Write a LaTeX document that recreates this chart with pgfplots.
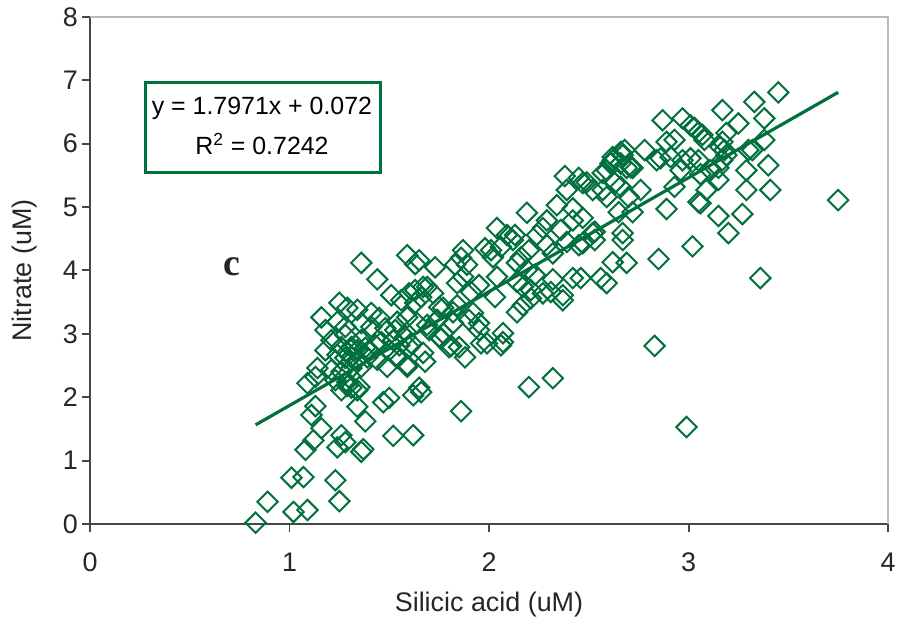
\documentclass[border=0pt]{standalone}
\usepackage{pgfplots}
\usepackage{pgfplotstable}
\pgfplotsset{compat=1.18}
\usepackage{fontspec}
\setmainfont{Liberation Sans}
\newfontfamily\serifface{Liberation Serif}
\definecolor{sgreen}{RGB}{0,112,60}
\definecolor{axgray}{RGB}{70,70,70}

% Silicic acid vs nitrate (uM)
\pgfplotstableread{
x y
0.83 0.02
0.89 0.35
1.02 0.19
1.09 0.22
1.01 0.73
1.07 0.74
1.23 0.69
1.25 0.36
1.08 1.17
1.12 1.32
1.16 1.51
1.11 1.72
1.13 1.86
1.24 1.21
1.26 1.40
1.28 1.29
1.36 1.14
1.37 1.18
1.34 1.85
1.38 1.62
1.47 1.92
1.50 1.99
1.52 1.39
1.62 1.40
1.62 2.03
1.66 2.08
1.26 2.11
1.29 2.18
1.31 2.15
1.34 2.11
1.86 1.78
2.20 2.16
2.32 2.30
2.83 2.81
2.99 1.53
1.88 2.63
1.68 2.56
1.65 2.15
1.81 2.81
1.76 2.93
1.96 2.85
2.06 2.82
2.07 3.01
1.59 2.48
1.60 2.79
1.67 2.70
1.77 3.01
1.80 2.79
1.90 3.22
1.95 3.06
1.82 3.34
1.75 3.42
1.63 3.49
1.60 3.64
1.67 3.74
1.36 4.12
1.44 3.86
1.59 4.24
1.63 4.10
1.51 3.61
1.56 3.53
1.63 3.69
1.66 3.58
1.25 3.49
1.29 3.41
1.34 3.38
1.41 3.33
1.45 3.25
1.16 3.26
1.18 3.06
1.24 3.19
1.28 3.11
1.36 3.17
1.41 3.11
1.48 3.09
1.54 3.19
1.59 3.26
1.64 3.17
1.21 2.90
1.26 2.79
1.31 2.79
1.34 2.74
1.38 2.78
1.43 2.82
1.46 2.87
1.52 2.90
1.58 2.95
1.61 2.85
1.18 2.74
1.24 2.67
1.28 2.62
1.31 2.63
1.34 2.59
1.39 2.63
1.44 2.59
1.49 2.48
1.54 2.62
1.59 2.51
1.14 2.46
1.21 2.43
1.26 2.40
1.31 2.46
1.36 2.48
1.23 2.27
1.13 2.32
1.09 2.22
1.29 2.24
1.35 2.16
1.29 2.71
1.33 2.82
1.36 2.90
1.40 2.74
1.28 2.98
1.50 2.74
1.55 2.82
1.53 3.06
1.70 3.06
1.74 3.22
2.38 5.49
2.45 5.46
2.47 5.38
2.39 5.27
2.52 5.27
2.57 5.27
2.59 5.58
2.62 5.79
2.67 5.82
2.66 5.69
2.69 5.62
2.59 5.16
2.66 5.32
2.70 5.16
2.65 4.92
2.72 4.92
2.67 4.59
2.62 4.13
2.69 4.12
2.56 3.88
2.59 3.80
2.34 5.03
2.42 4.98
2.19 4.91
2.29 4.79
2.42 4.79
2.47 4.83
2.27 4.67
2.36 4.64
2.53 4.61
2.24 4.56
2.29 4.40
2.39 4.45
2.32 4.27
2.45 4.40
2.04 4.67
2.09 4.56
2.13 4.56
2.12 4.48
1.98 4.35
2.01 4.32
2.02 4.21
2.06 4.37
2.20 4.32
2.16 4.21
1.87 4.32
1.86 4.20
1.89 4.09
1.83 4.09
1.73 4.05
1.65 4.16
2.14 4.12
2.19 4.01
2.23 3.93
2.32 3.86
2.42 3.88
2.14 3.82
2.17 3.74
2.21 3.69
2.31 3.66
2.37 3.61
2.04 3.90
2.03 3.58
1.95 3.77
1.87 3.90
1.84 3.80
1.91 3.66
1.69 3.74
1.72 3.64
1.77 3.41
1.84 3.45
1.92 3.33
1.95 3.17
2.14 3.34
2.17 3.45
2.21 3.56
1.82 3.17
1.69 3.14
1.75 2.95
1.85 2.79
2.07 2.87
1.99 2.85
2.27 3.64
2.37 3.53
2.87 6.37
2.97 6.40
3.17 6.53
3.33 6.66
3.45 6.81
3.38 6.40
3.25 6.32
3.01 6.29
3.03 6.25
3.05 6.18
3.07 6.14
3.08 6.06
2.89 6.03
2.93 6.06
3.19 6.17
3.17 6.03
3.38 6.06
3.30 5.90
3.18 5.90
3.16 5.95
2.78 5.90
2.68 5.90
2.84 5.74
2.91 5.79
2.97 5.74
3.05 5.74
2.96 5.58
3.06 5.52
3.11 5.58
3.15 5.62
3.17 5.74
3.29 5.58
3.40 5.66
2.72 5.62
2.76 5.27
2.93 5.32
3.09 5.27
3.29 5.27
3.41 5.27
2.89 4.97
3.06 5.06
3.15 4.86
3.27 4.89
3.20 4.59
3.02 4.38
2.85 4.18
3.36 3.88
3.75 5.11
2.66 5.87
2.62 5.74
2.71 5.63
2.86 5.77
3.01 5.77
3.32 5.90
3.19 5.82
3.15 5.43
3.05 5.08
2.63 5.38
2.49 5.39
2.57 5.54
2.61 5.69
2.52 4.59
2.47 4.43
2.67 4.48
2.53 4.48
2.46 3.88
}\nitrate

\begin{document}
\begin{tikzpicture}
\begin{axis}[
  scale only axis,
  width=399bp, height=253.5bp,
  xmin=0, xmax=4, ymin=0, ymax=8,
  xtick={0,1,2,3,4}, ytick={0,1,...,8},
  axis x line*=bottom, axis y line*=left,
  axis line style={axgray, line width=1pt},
  tick style={axgray, line width=1pt},
  tick align=outside, major tick length=4bp,
  /pgf/number format/assume math mode=true,
  ticklabel style={font=\fontsize{13.5}{16}\selectfont, text=black!85},
  xticklabel style={yshift=-7bp},
  yticklabel style={xshift=1.5bp},
  label style={font=\fontsize{13.5}{16}\selectfont, text=black!85},
  xlabel={Silicic acid (uM)},
  ylabel={Nitrate (uM)},
  xlabel style={at={(axis description cs:0.5,0)}, anchor=center, yshift=-40.5bp},
  ylabel style={at={(axis description cs:0,0.5)}, anchor=center, yshift=32.5bp},
  clip=false,
]
% light frame on the top and right sides
\draw[gray!55, line width=0.6pt] (axis cs:0,8) -- (axis cs:4,8) -- (axis cs:4,0);

\addplot[only marks, mark=square, mark size=3.6bp,
  mark options={rotate=45, draw=sgreen, line width=1pt, fill=none}]
  table {\nitrate};

% linear fit y = 1.7971x + 0.072
\addplot[sgreen, line width=1.6pt, no marks] coordinates {(0.83,1.564) (3.75,6.811)};

\draw[sgreen, line width=1.5pt, fill=white] (axis cs:0.276,6.97) rectangle (axis cs:1.454,5.55);
\node[font=\fontsize{12.5}{15}\selectfont] at (axis cs:0.862,6.56) {y = 1.7971x + 0.072};
\node[font=\fontsize{12.5}{15}\selectfont] at (axis cs:0.862,5.99) {R\textsuperscript{2} = 0.7242};

\node[font=\serifface\bfseries\fontsize{19}{22}\selectfont, text=black!85] at (axis cs:0.712,4.06) {c};
\end{axis}
\pgfresetboundingbox
\path[use as bounding box] ([shift={(-45bp,-52bp)}]current axis.south west)
  rectangle ([shift={(6bp,8.5bp)}]current axis.north east);
\end{tikzpicture}
\end{document}
